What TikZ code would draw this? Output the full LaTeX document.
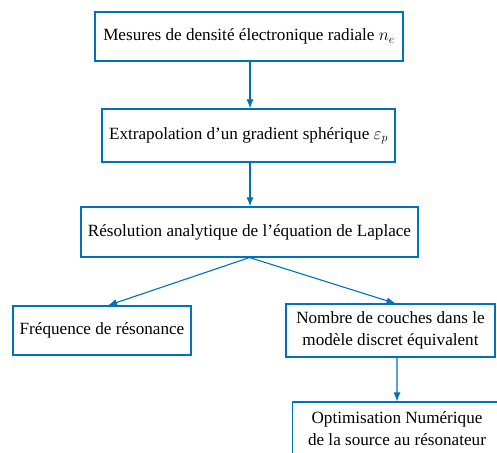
\documentclass[tikz,border=0pt]{standalone}
\usepackage{fontspec}
\setmainfont{Liberation Serif}
\usetikzlibrary{arrows.meta,calc}
\definecolor{fblue}{RGB}{0,114,189}
\begin{document}
\begin{tikzpicture}[x=1bp,y=-1bp,
  box/.style={draw=fblue,line width=1.1bp,rectangle,inner sep=0pt,align=center,
    font=\fontsize{17.2}{21.5}\selectfont,text=black},
  conn/.style={draw=fblue,line width=1.1bp,-{Latex[length=9bp,width=7bp]}}]
\useasboundingbox (0,0) rectangle (497,453);
\clip (0,0) rectangle (497,453);
\node[box,minimum width=308bp,minimum height=49bp] (b1) at (249,36.5) {Mesures de densité électronique radiale $n_e$};
\node[box,minimum width=293bp,minimum height=53bp] (b2) at (248.5,135.5) {Extrapolation d’un gradient sphérique $\varepsilon_p$};
\node[box,minimum width=337bp,minimum height=50bp] (b3) at (249.5,232) {Résolution analytique de l’équation de Laplace};
\node[box,minimum width=178bp,minimum height=49bp] (b4) at (102,330.5) {Fréquence de résonance};
\node[box,minimum width=209bp,minimum height=53bp] (b5) at (390.5,330.5) {Nombre de couches dans le\\modèle discret équivalent};
\node[box,minimum width=209bp,minimum height=53bp] (b6) at (397,428.5) {Optimisation Numérique\\de la source au résonateur};
\draw[conn] (b1.south -| 250,0) -- (b2.north -| 250,0);
\draw[conn] (b2.south -| 250,0) -- (b3.north -| 250,0);
\draw[conn] (b3.south) -- ($(b4.north)+(6,0)$);
\draw[conn] (b3.south) -- ($(b5.north)+(5,0)$);
\draw[conn] ($(b5.south)+(6.5,0)$) -- (b6.north);
\end{tikzpicture}
\end{document}
